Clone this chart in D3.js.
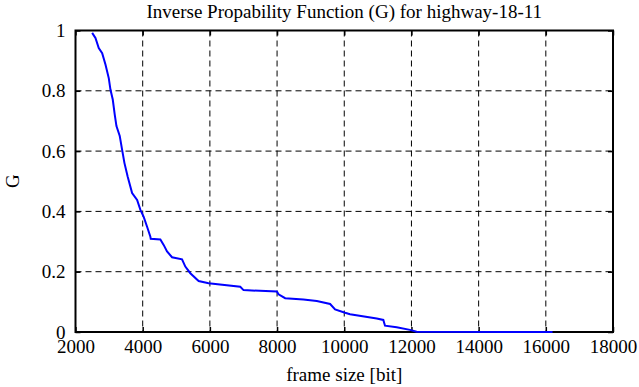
<!DOCTYPE html>
<html>
<head>
<meta charset="utf-8">
<script src="https://cdn.jsdelivr.net/npm/d3@7"></script>
<style>
  body { margin: 0; background: #fff; }
  svg { display: block; }
</style>
</head>
<body>
<div id="chart"></div>
<script>
const frameSizes = [2496, 2594, 2692, 2794, 2892, 2990, 3040, 3109, 3168, 3219, 3317, 3337, 3388, 3456,
  3554, 3685, 3834, 3932, 4030, 4131, 4229, 4240, 4526, 4624, 4725, 4874, 5171, 5269, 5418, 5665,
  5962, 6904, 7002, 7995, 8044, 8241, 8785, 9183, 9579, 9727, 10024, 10173, 10967, 11163, 11213,
  11561, 11956, 12155, 16200];
const gValues = [0.992, 0.975, 0.942, 0.925, 0.887, 0.842, 0.804, 0.771, 0.721, 0.683, 0.650, 0.637, 0.604, 0.561,
  0.515, 0.461, 0.438, 0.405, 0.382, 0.349, 0.316, 0.309, 0.307, 0.289, 0.267, 0.248, 0.241, 0.217, 0.195, 0.169,
  0.162, 0.150, 0.139, 0.134, 0.125, 0.112, 0.108, 0.103, 0.093, 0.075, 0.064, 0.059, 0.045, 0.040, 0.021,
  0.016, 0.007, 0.001, 0];
const xTicks = [2000, 4000, 6000, 8000, 10000, 12000, 14000, 16000, 18000];
const yTicks = [0, 0.2, 0.4, 0.6, 0.8, 1];

const width = 639, height = 387;
const margin = { top: 30.5, right: 26, bottom: 55, left: 75.5 };
const innerWidth = width - margin.left - margin.right;
const innerHeight = height - margin.top - margin.bottom;
const fontFamily = '"Liberation Serif", "Times New Roman", "DejaVu Serif", serif';

const data = frameSizes.map((x, i) => ({ x, g: gValues[i] }));

const xScale = d3.scaleLinear().domain([2000, 18000]).range([0, innerWidth]);
const yScale = d3.scaleLinear().domain([0, 1]).range([innerHeight, 0]);

const svg = d3.select("#chart").append("svg")
  .attr("width", width)
  .attr("height", height)
  .style("font-family", fontFamily);

const g = svg.append("g").attr("transform", `translate(${margin.left}, ${margin.top})`);

// dashed grid
g.append("g")
  .selectAll("line")
  .data(xTicks.slice(1, -1))
  .enter().append("line")
  .attr("x1", d => xScale(d)).attr("x2", d => xScale(d))
  .attr("y1", 0).attr("y2", innerHeight)
  .attr("stroke", "#000").attr("stroke-width", 1)
  .attr("stroke-dasharray", "6,4");

g.append("g")
  .selectAll("line")
  .data(yTicks.slice(1, -1))
  .enter().append("line")
  .attr("x1", 0).attr("x2", innerWidth)
  .attr("y1", d => yScale(d)).attr("y2", d => yScale(d))
  .attr("stroke", "#000").attr("stroke-width", 1)
  .attr("stroke-dasharray", "6,4");

// axes with inward ticks on all four sides
const xAxis = g.append("g")
  .attr("transform", `translate(0, ${innerHeight})`)
  .call(d3.axisBottom(xScale).tickValues(xTicks).tickSize(-5).tickFormat(d3.format("d")));
const yAxis = g.append("g")
  .call(d3.axisLeft(yScale).tickValues(yTicks).tickSize(-5).tickFormat(d => d));
const topAxis = g.append("g")
  .call(d3.axisTop(xScale).tickValues(xTicks).tickSize(-5));
const rightAxis = g.append("g")
  .attr("transform", `translate(${innerWidth}, 0)`)
  .call(d3.axisRight(yScale).tickValues(yTicks).tickSize(-5));
topAxis.selectAll("text").remove();
rightAxis.selectAll("text").remove();

g.selectAll(".domain").remove();
g.selectAll(".tick line").attr("stroke", "#000").attr("stroke-width", 1.5);
[xAxis, yAxis].forEach(axis => axis.attr("font-family", null).attr("font-size", null));
xAxis.selectAll(".tick text")
  .attr("dy", "0.71em").attr("y", 8)
  .style("font-family", fontFamily).style("font-size", "19px").attr("fill", "#000");
yAxis.selectAll(".tick text")
  .attr("x", -10)
  .style("font-family", fontFamily).style("font-size", "19px").attr("fill", "#000");

g.append("rect")
  .attr("x", 0).attr("y", 0)
  .attr("width", innerWidth).attr("height", innerHeight)
  .attr("fill", "none").attr("stroke", "#000").attr("stroke-width", 2);

const line = d3.line().x(d => xScale(d.x)).y(d => yScale(d.g));

g.append("path")
  .datum(data)
  .attr("fill", "none")
  .attr("stroke", "#0000ff")
  .attr("stroke-width", 2)
  .attr("d", line);

svg.append("text")
  .attr("x", margin.left + innerWidth / 2)
  .attr("y", 18)
  .attr("text-anchor", "middle")
  .style("font-size", "19px")
  .text("Inverse Propability Function (G) for highway-18-11");

svg.append("text")
  .attr("x", margin.left + innerWidth / 2)
  .attr("y", 381)
  .attr("text-anchor", "middle")
  .style("font-size", "19px")
  .text("frame size [bit]");

svg.append("text")
  .attr("transform", `translate(19, ${margin.top + innerHeight / 2}) rotate(-90)`)
  .attr("text-anchor", "middle")
  .style("font-size", "19px")
  .text("G");
</script>
</body>
</html>
